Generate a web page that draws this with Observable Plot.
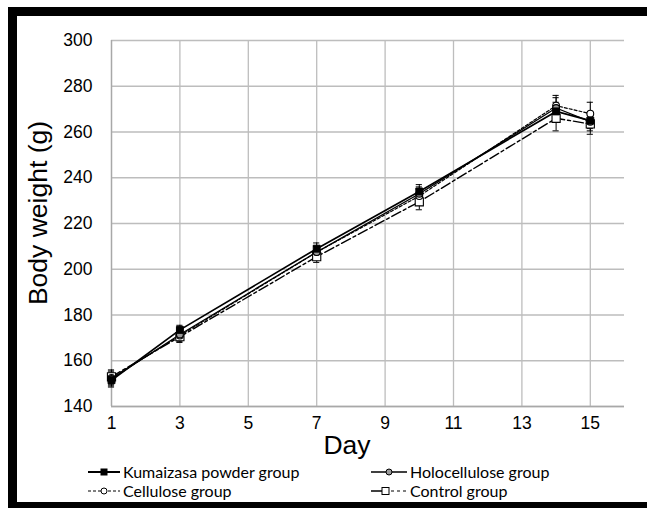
<!DOCTYPE html>
<html><head><meta charset="utf-8">
<script src="https://cdn.jsdelivr.net/npm/d3@7"></script>
<script src="https://cdn.jsdelivr.net/npm/@observablehq/plot@0.6"></script>
<style>
html,body{margin:0;padding:0;background:#fff;}
#wrap{position:relative;width:647px;height:508px;overflow:hidden;background:#fff;font-family:"Liberation Sans",Arial,sans-serif;}
.b{position:absolute;background:#000;}
#chart{position:absolute;left:0;top:0;}
.lab{position:absolute;color:#000;white-space:nowrap;font-size:26.5px;line-height:26px;}
.leg{position:absolute;font-family:Lato,"Open Sans",sans-serif;font-size:16px;line-height:16px;display:flex;align-items:center;white-space:nowrap;color:#000;}
.leg svg{margin-right:2px;}
</style></head><body>
<div id="wrap">
  <div id="chart"></div>
  <div class="b" style="left:8px;top:7px;width:639px;height:9px"></div>
  <div class="b" style="left:8px;top:7px;width:9px;height:501px"></div>
  <div class="b" style="left:8px;top:502px;width:639px;height:6px"></div>
  <div class="lab" id="ylab" style="left:38px;top:213px;transform:translate(-50%,-50%) rotate(-90deg);">Body weight (g)</div>
  <div class="lab" id="xlab" style="left:347px;top:432px;transform:translateX(-50%);">Day</div>
  <div id="legend"></div>
</div>
<script>
const days = [1, 3, 7, 10, 14, 15];
const groupNames = ["Kumaizasa powder group", "Holocellulose group", "Cellulose group", "Control group"];
const kumaizasa     = [151.5, 173.5, 209.0, 234.0, 269.0, 265.0];
const holocellulose = [152.0, 171.5, 207.5, 233.0, 270.5, 264.5];
const cellulose     = [152.5, 171.0, 207.5, 232.0, 271.5, 268.0];
const control       = [153.0, 170.5, 205.5, 229.5, 266.0, 263.5];
const kumaizasaSD     = [3, 2, 2.5, 3, 4, 3.5];
const holocelluloseSD = [3, 2.5, 2.5, 3, 4.5, 4];
const celluloseSD     = [3, 2.5, 2.5, 3, 4.5, 5];
const controlSD       = [3, 2.5, 2.5, 3.5, 5.5, 4.5];
const xTicks = [1, 3, 5, 7, 9, 11, 13, 15];
const yTicks = [140, 160, 180, 200, 220, 240, 260, 280, 300];

const series = [kumaizasa, holocellulose, cellulose, control];
const sds = [kumaizasaSD, holocelluloseSD, celluloseSD, controlSD];
const rows = groupNames.flatMap((g, gi) => days.map((d, i) => ({group: g, day: d, w: series[gi][i], sd: sds[gi][i]})));
const of = g => rows.filter(r => r.group === g);

const capW = 0.09;
const plot = Plot.plot({
  width: 647, height: 460,
  marginLeft: 111, marginRight: 23, marginTop: 40, marginBottom: 54,
  style: {fontFamily: "'Liberation Sans', Arial, sans-serif", fontSize: "17px", color: "#000", background: "transparent", overflow: "visible"},
  x: {domain: [1, 16]},
  y: {domain: [140, 300]},
  marks: [
    Plot.gridX(xTicks, {stroke: "#bdbdbd", strokeOpacity: 1, strokeWidth: 1.3}),
    Plot.gridY(yTicks, {stroke: "#bdbdbd", strokeOpacity: 1, strokeWidth: 1.3}),
    Plot.ruleX([1], {stroke: "#a8a8a8", strokeWidth: 1.3}),
    Plot.ruleY([140], {stroke: "#a8a8a8", strokeWidth: 1.3}),
    Plot.axisX({ticks: xTicks, tickSize: 0, tickPadding: 10, label: null, fontSize: 17.5}),
    Plot.axisY({ticks: yTicks, tickSize: 0, tickPadding: 19, label: null, fontSize: 17.5}),
    Plot.line(of("Control group"), {x: "day", y: "w", stroke: "#000", strokeWidth: 1.4, strokeDasharray: "10,3,3,3"}),
    Plot.line(of("Cellulose group"), {x: "day", y: "w", stroke: "#000", strokeWidth: 1.2, strokeDasharray: "3,2"}),
    Plot.line(of("Holocellulose group"), {x: "day", y: "w", stroke: "#000", strokeWidth: 1.3}),
    Plot.line(of("Kumaizasa powder group"), {x: "day", y: "w", stroke: "#000", strokeWidth: 1.7}),
    Plot.ruleX(rows, {x: "day", y1: d => d.w - d.sd, y2: d => d.w + d.sd, stroke: "#000", strokeWidth: 1}),
    Plot.ruleY(rows, {y: d => d.w + d.sd, x1: d => d.day - capW, x2: d => d.day + capW, stroke: "#000", strokeWidth: 1}),
    Plot.ruleY(rows, {y: d => d.w - d.sd, x1: d => d.day - capW, x2: d => d.day + capW, stroke: "#000", strokeWidth: 1}),
    Plot.dot(of("Control group"), {x: "day", y: "w", symbol: "square", r: 4.6, fill: "#fff", stroke: "#000", strokeWidth: 1.1}),
    Plot.dot(of("Cellulose group"), {x: "day", y: "w", symbol: "circle", r: 3.4, fill: "#fff", stroke: "#000", strokeWidth: 1.1}),
    Plot.dot(of("Holocellulose group"), {x: "day", y: "w", symbol: "circle", r: 3.4, fill: "#9a9a9a", stroke: "#000", strokeWidth: 1.1}),
    Plot.dot(of("Kumaizasa powder group"), {x: "day", y: "w", symbol: "square", r: 3.9, fill: "#000", stroke: "#000", strokeWidth: 1})
  ]
});
document.getElementById("chart").appendChild(plot);

// Legend
const legendItems = [
  {name: groupNames[0], left: 88, top: 464, svg: '<line x1="0" y1="6" x2="32" y2="6" stroke="#000" stroke-width="2"/><rect x="12.5" y="2.5" width="7" height="7" fill="#000"/>'},
  {name: groupNames[1], left: 371, top: 464, svg: '<line x1="0" y1="6" x2="36" y2="6" stroke="#000" stroke-width="1.6"/><circle cx="18" cy="6" r="3" fill="#9a9a9a" stroke="#000" stroke-width="1"/>'},
  {name: groupNames[2], left: 88, top: 483, svg: '<line x1="0" y1="6" x2="32" y2="6" stroke="#000" stroke-width="1" stroke-dasharray="3,2"/><circle cx="16" cy="6" r="3" fill="#fff" stroke="#000" stroke-width="1"/>'},
  {name: groupNames[3], left: 371, top: 483, svg: '<line x1="0" y1="6" x2="11" y2="6" stroke="#000" stroke-width="1.5"/><line x1="20" y1="6" x2="36" y2="6" stroke="#000" stroke-width="1.2" stroke-dasharray="3,3"/><rect x="11" y="2.5" width="7" height="7" fill="#fff" stroke="#000" stroke-width="1"/>'}
];
const legend = document.getElementById("legend");
legendItems.forEach(it => {
  const w = it.left < 200 ? 33 : 37;
  const d = document.createElement("div");
  d.className = "leg";
  d.style.left = it.left + "px";
  d.style.top = it.top + "px";
  d.innerHTML = '<svg width="' + w + '" height="12" viewBox="0 0 ' + w + ' 12">' + it.svg + '</svg><span>' + it.name + '</span>';
  legend.appendChild(d);
});
</script>
</body></html>
